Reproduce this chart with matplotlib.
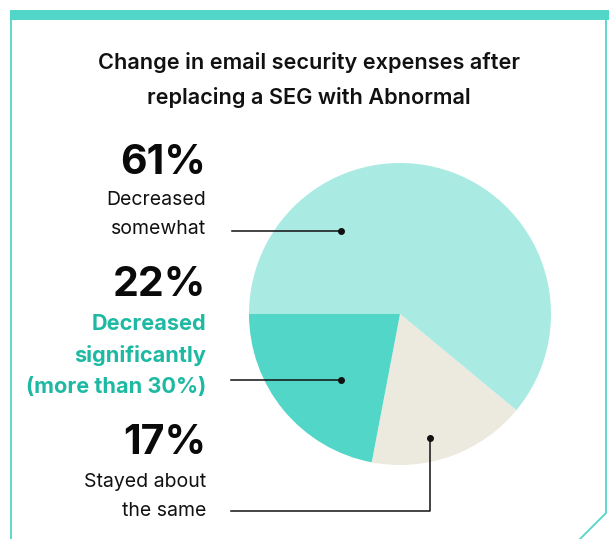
import matplotlib
matplotlib.use("Agg")
import matplotlib.pyplot as plt
from matplotlib.patches import Rectangle

# Data
categories = ["Decreased somewhat", "Stayed about the same", "Decreased significantly (more than 30%)"]
values = [61, 17, 22]
colors = ["#a9eae3", "#ece9df", "#52d6c8"]
title = "Change in email security expenses after\nreplacing a SEG with Abnormal"

W, H = 609, 539
fig = plt.figure(figsize=(W / 100, H / 100), dpi=100)
ax = fig.add_axes([0, 0, 1, 1])
ax.set_xlim(0, W)
ax.set_ylim(0, H)
ax.set_aspect("equal")
ax.axis("off")

def Y(y):
    return H - y

teal = "#52d6c8"
# frame
ax.add_patch(Rectangle((10, Y(20)), W - 10, 10, color=teal, lw=0))
ax.plot([11, 11], [Y(20), Y(539)], color=teal, lw=1.3, solid_capstyle="butt")
ax.plot([606, 606, 580], [Y(20), Y(513), Y(539)], color=teal, lw=1.3)

# pie
cx, cy, r = 400, Y(314), 151
ax.pie(values, colors=colors, startangle=180, counterclock=False,
       center=(cx, cy), radius=r, wedgeprops=dict(linewidth=0))
ax.set_xlim(0, W)
ax.set_ylim(0, H)

font = "Inter"
ax.text(309, Y(80), title, ha="center", va="center", fontsize=15.6,
        fontweight="semibold", family=font, linespacing=1.83, color="#111111")

xr = 206
big = dict(ha="right", va="center", fontsize=29.5, fontweight="bold", family=font, color="#0a0a0a")
small = dict(ha="right", va="center", fontsize=14, family=font, color="#111111")
tealtxt = dict(ha="right", va="center", fontsize=15.6, fontweight="bold", family=font, color="#1db9a3")

ax.text(xr, Y(163), f"{values[0]}%", **big)
ax.text(xr, Y(200), "Decreased", **small)
ax.text(xr, Y(229), "somewhat", **small)

ax.text(xr, Y(285), f"{values[2]}%", **big)
ax.text(xr, Y(324), "Decreased", **tealtxt)
ax.text(xr, Y(356), "significantly", **tealtxt)
ax.text(xr, Y(387), "(more than 30%)", **tealtxt)

ax.text(xr, Y(443), f"{values[1]}%", **big)
ax.text(xr, Y(482), "Stayed about", **small)
ax.text(xr, Y(511), "the same", **small)

# leader lines
lc = "#111111"
ax.plot([232, 341], [Y(231), Y(231)], color=lc, lw=1.1)
ax.plot([341], [Y(231)], "o", color=lc, ms=4)
ax.plot([231, 341], [Y(380), Y(380)], color=lc, lw=1.1)
ax.plot([341], [Y(380)], "o", color=lc, ms=4)
ax.plot([231, 430, 430], [Y(511), Y(511), Y(438)], color=lc, lw=1.1)
ax.plot([430], [Y(438)], "o", color=lc, ms=4)

fig.savefig("out.png", dpi=100, facecolor="white")
